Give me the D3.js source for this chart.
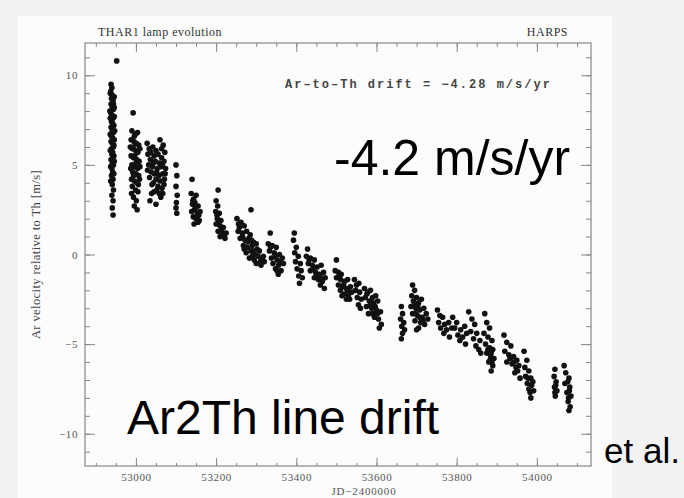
<!DOCTYPE html>
<html>
<head>
<meta charset="utf-8">
<script src="https://cdn.jsdelivr.net/npm/d3@7"></script>
<style>
  body { margin: 0; background: #f2f2f2; }
  svg { display: block; }
  .ax text { font-family: "Liberation Serif", serif; fill: #555; }
</style>
</head>
<body>
<div class="chart"></div>
<script>
// Chart size
const w = 684;
const h = 498;
const frame = { left: 85, right: 591, top: 43, bottom: 466 };

// Data: [JD-2400000, Ar velocity relative to Th in m/s], one array per observing run
const run01 = [[52938,9.5],[52940,9.3],[52937,9.1],[52941,8.9],[52946,8.8],[52939,8.7],[52943,8.6],[52938,8.4],[52941,8.2],[52944,8.1],[52937,7.9],[52940,7.8],[52943,7.6],[52939,7.4],[52942,7.3],[52945,7.2],[52938,7.1],[52941,6.9],[52944,6.8],[52939,6.6],[52942,6.5],[52946,6.4],[52938,6.3],[52941,6.2],[52944,6.0],[52939,5.9],[52942,5.7],[52940,5.6],[52945,5.5],[52943,5.4],[52938,5.3],[52941,5.1],[52944,5.0],[52940,4.8],[52942,4.6],[52939,4.4],[52943,4.2],[52941,3.9],[52944,3.6],[52940,3.3],[52943,3.0],[52941,2.6],[52943,2.2],[52952,10.8],
  [52936,9.0],[52944,8.4],[52936,7.6],[52946,7.7],[52936,6.7],[52945,6.1],[52936,5.8],[52946,5.2],[52937,4.9],[52945,4.5],[52937,4.1],[52946,8.2],[52935,8.0],[52947,6.9]];
const run02 = [[52993,7.9],[52990,6.9],[52998,6.7],[53004,6.8],[52988,6.4],[52995,6.3],[53001,6.2],[53007,6.1],[52991,5.9],[52999,5.8],[53005,5.7],[52988,5.5],[52994,5.4],[53002,5.3],[53008,5.2],[52990,5.0],[52997,4.9],[53004,4.8],[52992,4.6],[53000,4.5],[53007,4.4],[52989,4.2],[52996,4.1],[53003,4.0],[52991,3.8],[52999,3.6],[53005,3.5],[52994,3.2],[53001,3.0],[52996,2.7],[53003,2.5],
  [52993,6.0],[52997,5.5],[53000,5.1],[52986,6.0],[53010,5.9],[52987,4.8],[53010,4.9],[52994,4.4],[53006,3.9],[52989,3.4],[53009,4.2],[52996,6.6]];
const run03 = [[53028,6.2],[53060,6.4],[53033,5.9],[53042,6.0],[53050,5.8],[53068,6.1],[53030,5.6],[53045,5.5],[53055,5.6],[53064,5.4],[53072,5.7],[53036,5.3],[53048,5.2],[53058,5.1],[53070,5.2],[53032,5.0],[53041,4.9],[53053,4.8],[53062,4.9],[53074,4.8],[53038,4.6],[53046,4.5],[53057,4.4],[53067,4.5],[53034,4.3],[53050,4.2],[53060,4.1],[53071,4.2],[53040,3.9],[53055,3.8],[53065,3.7],[53045,3.5],[53058,3.4],[53035,3.0],[53062,3.2],[53050,2.8],
  [53037,5.7],[53064,5.9],[53044,5.1],[53066,5.0],[53029,4.7],[53052,4.6],[53073,4.5],[53044,4.0],[53070,3.9],[53052,3.6],[53039,3.4],[53067,3.4]];
const run04 = [[53100,5.0],[53102,4.4],[53100,3.8],[53103,3.3],[53101,2.9],[53100,2.6],[53102,2.3]];
const run05 = [[53140,4.2],[53138,3.4],[53144,3.1],[53150,3.3],[53141,2.8],[53147,2.9],[53155,2.7],[53139,2.4],[53146,2.5],[53153,2.3],[53160,2.4],[53143,2.1],[53150,2.0],[53158,1.9],[53145,1.7],[53155,1.8],
  [53148,2.6],[53152,2.1],[53142,3.0],[53157,2.2]];
const run06 = [[53205,3.6],[53200,3.0],[53204,2.7],[53199,2.4],[53208,2.3],[53203,2.0],[53212,1.9],[53200,1.7],[53210,1.6],[53218,1.5],[53205,1.3],[53215,1.2],[53225,1.2],[53210,1.0],[53222,0.9],
  [53202,2.2],[53207,1.8],[53214,1.4],[53220,1.1]];
const run07 = [[53287,2.5],[53252,2.0],[53262,1.8],[53258,1.5],[53270,1.6],[53255,1.3],[53265,1.2],[53276,1.3],[53285,1.1],[53260,0.9],[53272,0.8],[53282,0.9],[53293,0.7],[53268,0.5],[53278,0.4],[53290,0.5],[53300,0.6],[53275,0.1],[53287,0.2],[53297,0.0],[53308,0.2],[53283,-0.2],[53295,-0.3],[53305,-0.1],[53315,-0.2],[53300,-0.5],[53312,-0.6],[53320,-0.4],
  [53256,1.7],[53266,1.0],[53279,0.7],[53288,0.8],[53270,0.3],[53292,0.2],[53302,0.3],[53290,-0.1],[53310,-0.4],[53318,-0.1]];
const run08 = [[53335,1.2],[53330,0.6],[53340,0.5],[53350,0.4],[53333,0.2],[53345,0.1],[53358,0.0],[53338,-0.2],[53352,-0.3],[53365,-0.2],[53342,-0.5],[53356,-0.6],[53368,-0.5],[53348,-0.8],[53362,-0.9],[53355,-1.1],
  [53336,0.4],[53347,-0.1],[53360,-0.4],[53352,-0.9]];
const run09 = [[53395,1.2],[53393,0.8],[53400,0.4],[53396,0.1],[53405,-0.1],[53398,-0.4],[53410,-0.5],[53402,-0.8],[53412,-0.9],[53406,-1.2],[53415,-1.3],[53408,-1.6]];
const run10 = [[53428,0.3],[53425,-0.1],[53435,-0.2],[53445,-0.3],[53430,-0.5],[53440,-0.6],[53452,-0.7],[53462,-0.6],[53435,-0.9],[53448,-1.0],[53458,-1.1],[53468,-1.0],[53445,-1.3],[53455,-1.4],[53465,-1.5],[53472,-1.3],[53460,-1.7],[53470,-1.9],
  [53432,-0.3],[53442,-0.8],[53453,-1.2],[53462,-1.3]];
const run11 = [[53500,-0.3],[53497,-0.9],[53505,-1.0],[53512,-1.1],[53500,-1.3],[53510,-1.4],[53520,-1.5],[53528,-1.4],[53505,-1.7],[53515,-1.8],[53525,-1.9],[53535,-1.8],[53510,-2.0],[53520,-2.2],[53530,-2.3],[53538,-2.1],[53525,-2.5],
  [53508,-1.2],[53518,-1.7],[53528,-2.0],[53514,-2.3],[53533,-2.5]];
const run12 = [[53545,-1.4],[53550,-1.7],[53556,-1.6],[53548,-2.0],[53558,-2.1],[53552,-2.4],[53562,-2.5],[53555,-2.8],[53560,-3.0]];
const run13 = [[53570,-1.9],[53578,-2.1],[53585,-2.0],[53598,-2.3],[53572,-2.4],[53582,-2.6],[53592,-2.7],[53603,-2.6],[53575,-2.9],[53588,-3.0],[53600,-3.1],[53610,-3.2],[53580,-3.3],[53595,-3.5],[53605,-3.6],[53612,-3.9],[53607,-4.1],
  [53576,-2.2],[53590,-2.4],[53585,-2.8],[53597,-2.9],[53590,-3.3],[53602,-3.3]];
const run14 = [[53662,-2.9],[53665,-3.3],[53660,-3.6],[53668,-3.8],[53663,-4.0],[53670,-4.2],[53665,-4.4],[53662,-4.7]];
const run15 = [[53690,-1.7],[53695,-2.0],[53688,-2.3],[53700,-2.4],[53692,-2.6],[53705,-2.7],[53712,-2.5],[53686,-2.9],[53698,-3.0],[53708,-3.1],[53718,-3.0],[53690,-3.3],[53702,-3.4],[53714,-3.5],[53724,-3.3],[53696,-3.7],[53710,-3.8],[53720,-3.9],[53705,-4.1],[53728,-3.6],[53700,-4.2],
  [53694,-2.8],[53703,-2.9],[53698,-3.3],[53708,-3.5],[53716,-3.7]];
const run16 = [[53752,-3.1],[53758,-3.4],[53765,-3.5],[53755,-3.8],[53770,-3.9],[53780,-3.8],[53760,-4.1],[53775,-4.2],[53788,-4.1],[53768,-4.4],[53782,-4.6]];
const run17 = [[53790,-3.5],[53800,-3.8],[53795,-4.1],[53810,-4.2],[53820,-4.0],[53803,-4.5],[53815,-4.6],[53825,-4.4],[53808,-4.8],[53822,-5.0]];
const run18 = [[53830,-3.2],[53838,-3.6],[53845,-3.9],[53835,-4.3],[53850,-4.4],[53842,-4.7],[53858,-4.8],[53848,-5.1],[53855,-5.3],[53860,-5.5]];
const run19 = [[53870,-3.3],[53875,-3.8],[53882,-4.1],[53868,-4.4],[53878,-4.6],[53888,-4.8],[53872,-5.0],[53882,-5.2],[53890,-5.3],[53875,-5.5],[53885,-5.7],[53893,-5.8],[53880,-6.0],[53890,-6.2],[53886,-6.5],
  [53878,-5.3],[53886,-5.5],[53883,-5.9],[53888,-6.0]];
const run20 = [[53918,-4.5],[53925,-4.9],[53935,-5.1],[53920,-5.4],[53930,-5.6],[53942,-5.7],[53950,-5.9],[53925,-6.0],[53938,-6.1],[53948,-6.3],[53955,-6.2],[53945,-6.6],[53958,-6.9],
  [53933,-5.8],[53943,-6.0],[53952,-6.5]];
const run21 = [[53968,-5.4],[53975,-5.9],[53970,-6.3],[53980,-6.5],[53972,-6.8],[53985,-6.9],[53976,-7.2],[53990,-7.1],[53980,-7.5],[53992,-7.6],[53985,-8.0],
  [53978,-6.9],[53987,-7.3],[53983,-7.7]];
const run22 = [[54045,-6.4],[54043,-6.8],[54048,-7.1],[54044,-7.4],[54050,-7.6],[54046,-7.9],[54068,-6.2],[54072,-6.6],[54080,-6.9],[54070,-7.2],[54082,-7.4],[54075,-7.7],[54085,-7.9],[54078,-8.2],[54083,-8.5],[54080,-8.7],
  [54047,-7.3],[54045,-7.7],[54077,-7.1],[54081,-7.6],[54079,-8.0]];

const allRuns = [run01, run02, run03, run04, run05, run06, run07, run08, run09, run10, run11,
  run12, run13, run14, run15, run16, run17, run18, run19, run20, run21, run22];
const points = allRuns.flat();

// Axis ticks
const xLabelTicks = [53000, 53200, 53400, 53600, 53800, 54000];
const xMinorStep = 50;
const yLabelTicks = [-10, -5, 0, 5, 10];
const yMinorStep = 1;

const svg = d3
  .select(".chart")
  .append("svg")
  .attr("width", w)
  .attr("height", h);

// Scanned-page look: white sheet behind the plot
svg.append("rect")
  .attr("x", 18).attr("y", 16)
  .attr("width", 594).attr("height", h - 16)
  .attr("fill", "#fcfcfc");

// Scales
const xScale = d3.scaleLinear().domain([52873, 54135]).range([frame.left, frame.right]);
const yScale = d3.scaleLinear().domain([-11.8, 11.8]).range([frame.bottom, frame.top]);

const xMinor = d3.range(52900, 54135, xMinorStep);
const yMinor = d3.range(-11, 12, yMinorStep);

const tickColor = "#888";

// Bottom axis (ticks point inward)
svg.append("g")
  .attr("transform", `translate(0, ${frame.bottom})`)
  .call(d3.axisBottom(xScale).tickValues(xMinor).tickSize(-3).tickFormat(""))
  .call((g) => g.select(".domain").remove())
  .call((g) => g.selectAll("line").attr("stroke", tickColor));

svg.append("g")
  .attr("class", "ax")
  .attr("transform", `translate(0, ${frame.bottom})`)
  .call(d3.axisBottom(xScale).tickValues(xLabelTicks).tickSize(-8).tickPadding(6).tickFormat(d3.format("d")))
  .call((g) => g.select(".domain").remove())
  .call((g) => g.selectAll("line").attr("stroke", tickColor))
  .call((g) => g.selectAll("text").attr("y", 7).attr("font-size", 11).attr("letter-spacing", 0.6));

// Top axis
svg.append("g")
  .attr("transform", `translate(0, ${frame.top})`)
  .call(d3.axisTop(xScale).tickValues(xMinor).tickSize(-4).tickFormat(""))
  .call((g) => g.select(".domain").remove())
  .call((g) => g.selectAll("line").attr("stroke", tickColor));

svg.append("g")
  .attr("transform", `translate(0, ${frame.top})`)
  .call(d3.axisTop(xScale).tickValues(xLabelTicks).tickSize(-9).tickFormat(""))
  .call((g) => g.select(".domain").remove())
  .call((g) => g.selectAll("line").attr("stroke", tickColor));

// Left axis
svg.append("g")
  .attr("transform", `translate(${frame.left}, 0)`)
  .call(d3.axisLeft(yScale).tickValues(yMinor).tickSize(-5).tickFormat(""))
  .call((g) => g.select(".domain").remove())
  .call((g) => g.selectAll("line").attr("stroke", tickColor));

svg.append("g")
  .attr("class", "ax")
  .attr("transform", `translate(${frame.left}, 0)`)
  .call(d3.axisLeft(yScale).tickValues(yLabelTicks).tickSize(-10).tickPadding(7).tickFormat((d) => (d < 0 ? "\u2212" + -d : d)))
  .call((g) => g.select(".domain").remove())
  .call((g) => g.selectAll("line").attr("stroke", tickColor))
  .call((g) => g.selectAll("text").attr("font-size", 11).attr("letter-spacing", 0.6));

// Right axis
svg.append("g")
  .attr("transform", `translate(${frame.right}, 0)`)
  .call(d3.axisRight(yScale).tickValues(yMinor).tickSize(-5).tickFormat(""))
  .call((g) => g.select(".domain").remove())
  .call((g) => g.selectAll("line").attr("stroke", tickColor));

svg.append("g")
  .attr("transform", `translate(${frame.right}, 0)`)
  .call(d3.axisRight(yScale).tickValues(yLabelTicks).tickSize(-10).tickFormat(""))
  .call((g) => g.select(".domain").remove())
  .call((g) => g.selectAll("line").attr("stroke", tickColor));

// Frame
svg.append("rect")
  .attr("x", frame.left).attr("y", frame.top)
  .attr("width", frame.right - frame.left)
  .attr("height", frame.bottom - frame.top)
  .attr("fill", "none")
  .attr("stroke", tickColor)
  .attr("stroke-width", 1.2);

// Points
svg.append("g")
  .selectAll("circle")
  .data(points)
  .enter()
  .append("circle")
  .attr("cx", (d) => xScale(d[0]))
  .attr("cy", (d) => yScale(d[1]))
  .attr("r", 2.8)
  .attr("fill", "#111");

// Plot texts
const serif = "Liberation Serif, serif";
const mono = "Liberation Mono, monospace";
svg.append("text")
  .text("THAR1 lamp evolution")
  .attr("x", 98).attr("y", 36)
  .attr("font-family", serif).attr("font-size", 12).attr("letter-spacing", 0.5).attr("fill", "#333");

svg.append("text")
  .text("HARPS")
  .attr("x", 568).attr("y", 36)
  .attr("text-anchor", "end")
  .attr("font-family", serif).attr("font-size", 12).attr("letter-spacing", 0.5).attr("fill", "#333");

svg.append("text")
  .text("Ar\u2013to\u2013Th drift = \u22124.28 m/s/yr")
  .attr("x", 285).attr("y", 88)
  .attr("font-family", mono).attr("font-size", 12).attr("font-weight", "bold")
  .attr("letter-spacing", 2.0).attr("fill", "#444");

svg.append("text")
  .text("JD\u22122400000")
  .attr("x", 364).attr("y", 495)
  .attr("text-anchor", "middle")
  .attr("font-family", serif).attr("font-size", 11).attr("letter-spacing", 0.8).attr("fill", "#555");

svg.append("text")
  .text("Ar velocity relative to Th [m/s]")
  .attr("transform", `translate(40, ${(frame.top + frame.bottom) / 2}) rotate(-90)`)
  .attr("text-anchor", "middle")
  .attr("font-family", serif).attr("font-size", 12.5).attr("letter-spacing", 0.4).attr("fill", "#444");

// Overlaid annotations
const sans = "Liberation Sans, Arial, sans-serif";
svg.append("text")
  .text("-4.2 m/s/yr")
  .attr("x", 334).attr("y", 175)
  .attr("font-family", sans).attr("font-size", 50).attr("fill", "#000");

svg.append("text")
  .text("Ar2Th line drift")
  .attr("x", 127).attr("y", 434)
  .attr("font-family", sans).attr("font-size", 48).attr("fill", "#000");

svg.append("text")
  .text("et al.")
  .attr("x", 604).attr("y", 463)
  .attr("font-family", sans).attr("font-size", 35).attr("fill", "#000");
</script>
</body>
</html>
